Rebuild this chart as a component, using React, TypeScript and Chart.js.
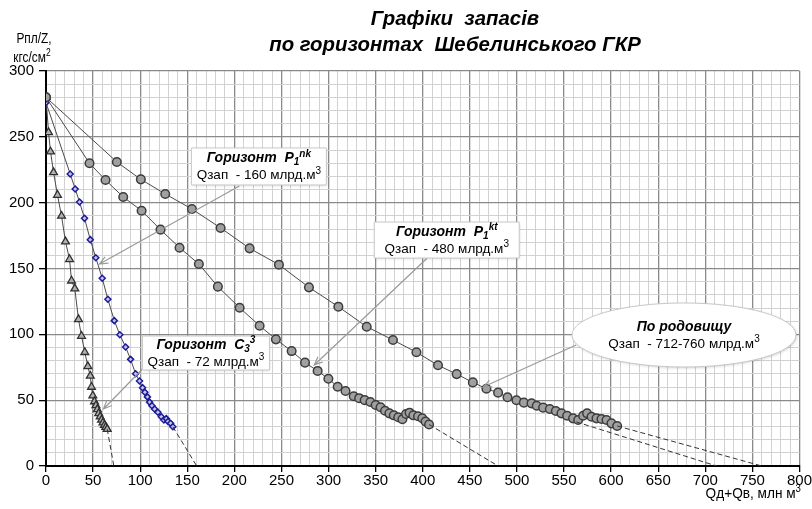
import React, { useEffect, useRef } from "react";
import { Chart, registerables } from "chart.js";

Chart.register(...registerables);

// ---- Axis tick labels ----
const xTickLabels = [0, 50, 100, 150, 200, 250, 300, 350, 400, 450, 500, 550, 600, 650, 700, 750, 800];
const yTickLabels = [0, 50, 100, 150, 200, 250, 300];

// ---- Горизонт C3^3 (triangles) ----
const c3Q = [0, 2.7, 4.8, 8.0, 12.2, 16.5, 20.7, 25.0, 27.1, 30.6, 34.5, 37.7, 41.2, 44.4, 47.0, 48.3, 49.7, 51.5, 53.0, 54.5, 56.0, 57.5, 59.0, 60.5, 62.0, 63.5, 65.0];
const c3P = [280, 253.4, 238.7, 223, 205.8, 189.9, 170.4, 157, 140.7, 134.7, 111.4, 98.7, 86.4, 75.7, 68.4, 60, 53.4, 49, 46, 43, 40, 37.5, 35, 33, 31, 29.5, 28];
const c3ExtQ = [65.0, 72];
const c3ExtP = [28, 0];

// ---- Горизонт P1^nk (blue diamonds) ----
const nkQ = [0, 25.7, 31.0, 35.6, 40.9, 47.0, 52.9, 59.7, 65.7, 72.5, 78.4, 84.5, 89.8, 95.1, 99.3, 102.5, 105.0, 107.7, 110.0, 112.5, 115.3, 118.8, 122.4, 125.2, 127.7, 129.5, 132.3, 134.7];
const nkP = [276, 221.8, 210.4, 200.5, 188.1, 171.9, 158.2, 142.6, 126.6, 110.4, 99.7, 90.4, 81, 70.1, 64.6, 59.5, 56, 52.5, 48.5, 45.8, 43.3, 40.8, 37.4, 34.9, 36, 33.8, 32.4, 29.8];
const nkExtQ = [134.7, 160];
const nkExtP = [29.8, 0];

// ---- Горизонт P1^kt (inner circles) ----
const ktQ = [0, 46.2, 63.2, 82.0, 101.5, 121.6, 141.8, 162.3, 182.5, 205.6, 226.8, 244.1, 260.8, 275.0, 288.4, 299.8, 309.7, 318.0, 326.7, 332.5, 338.4, 344.4, 350.0, 355.2, 360.0, 364.6, 369.3, 374.0, 378.4, 382.3, 386.0, 390.0, 395.0, 399.5, 403.0, 406.7];
const ktP = [280, 229.9, 217.2, 204.3, 193.9, 179.5, 165.8, 153.4, 136.2, 120.2, 106.5, 96.2, 87.3, 78.5, 72.2, 66.3, 60.2, 57, 53, 51.5, 50, 48.6, 46.3, 44.6, 42, 40, 38.5, 37, 35.5, 39.5, 40.5, 38.5, 37.8, 36.3, 33.8, 31.5];
const ktExtQ = [406.7, 480];
const ktExtP = [31.5, 0];

// ---- По родовищу (outer circles) ----
const fieldQ = [0, 75.2, 100.7, 126.6, 154.9, 185.4, 216.2, 247.3, 279.2, 310.4, 340.5, 368.4, 393.3, 416.2, 436.0, 453.2, 467.6, 480.0, 490.0, 499.5, 507.3, 515.5, 521.0, 527.8, 534.9, 541.3, 547.3, 553.3, 559.6, 565.0, 570.3, 574.5, 579.2, 584.5, 589.8, 595.1, 600.4, 606.4];
const fieldP = [280, 230.9, 217.7, 206.6, 195.2, 180.8, 165.3, 152.9, 135.7, 121, 105.8, 95.7, 86.4, 76.5, 69.8, 63.5, 58.7, 55.7, 52.2, 49.9, 48.1, 47.6, 45.8, 44.3, 43.3, 41.8, 40, 38.2, 36.2, 34.9, 38.2, 40, 37.4, 36.2, 35.7, 34.9, 32.4, 30.4];
const fieldExtLowQ = [563.0, 712];
const fieldExtLowP = [33.5, 0];
const fieldExtHighQ = [606.4, 760];
const fieldExtHighP = [30.4, 0];

const pts = (xs: number[], ys: number[]) => xs.map((x, i) => ({ x, y: ys[i] }));

const NARROW = "'Liberation Sans Narrow', 'Arial Narrow', 'Liberation Sans', Arial, sans-serif";
const SANS = "'Liberation Sans', Arial, sans-serif";

type Seg = { t: string; b?: boolean; i?: boolean; s?: "sup" | "sub" };

function segFont(seg: Seg, size: number, family: string) {
  const sz = seg.s ? Math.round(size * 0.72) : size;
  return `${seg.i ? "italic " : ""}${seg.b ? "bold " : ""}${sz}px ${family}`;
}

function drawRich(ctx: CanvasRenderingContext2D, segs: Seg[], x: number, cy: number, size: number, family: string, align: "center" | "left" | "right" = "center", hs = 1) {
  const widths = segs.map((s) => {
    ctx.font = segFont(s, size, family);
    return ctx.measureText(s.t).width;
  });
  const total = widths.reduce((a, b) => a + b, 0) * hs;
  let cx = align === "center" ? x - total / 2 : align === "right" ? x - total : x;
  ctx.save();
  ctx.textAlign = "left";
  ctx.textBaseline = "middle";
  ctx.translate(cx, cy);
  ctx.scale(hs, 1);
  let off = 0;
  segs.forEach((s, k) => {
    ctx.font = segFont(s, size, family);
    const dy = s.s === "sup" ? -size * 0.32 : s.s === "sub" ? size * 0.28 : 0;
    ctx.fillText(s.t, off, dy);
    off += widths[k];
  });
  ctx.restore();
}

function drawArrow(ctx: CanvasRenderingContext2D, x1: number, y1: number, x2: number, y2: number) {
  ctx.save();
  ctx.strokeStyle = "#9a9a9a";
  ctx.lineWidth = 1.2;
  ctx.beginPath();
  ctx.moveTo(x1, y1);
  ctx.lineTo(x2, y2);
  const a = Math.atan2(y2 - y1, x2 - x1);
  const L = 9;
  ctx.moveTo(x2 - L * Math.cos(a - 0.4), y2 - L * Math.sin(a - 0.4));
  ctx.lineTo(x2, y2);
  ctx.lineTo(x2 - L * Math.cos(a + 0.4), y2 - L * Math.sin(a + 0.4));
  ctx.stroke();
  ctx.restore();
}

// Annotation callouts (anchors in data units, sizes in px)
const callouts = [
  {
    shape: "rect", cx: 226, cy: 227.5, w: 135, h: 37,
    from: [205.3, 212.7], to: [56.8, 153.4],
    line1: [{ t: "Горизонт  P", b: true, i: true }, { t: "1", b: true, i: true, s: "sub" }, { t: "nk", b: true, i: true, s: "sup" }] as Seg[],
    line2: [{ t: "Qзап  - 160 млрд.м" }, { t: "3", s: "sup" }] as Seg[],
  },
  {
    shape: "rect", cx: 425.5, cy: 171.6, w: 145, h: 36,
    from: [404.8, 158], to: [284.9, 76.7],
    line1: [{ t: "Горизонт  P", b: true, i: true }, { t: "1", b: true, i: true, s: "sub" }, { t: "kt", b: true, i: true, s: "sup" }] as Seg[],
    line2: [{ t: "Qзап  - 480 млрд.м" }, { t: "3", s: "sup" }] as Seg[],
  },
  {
    shape: "rect", cx: 169.8, cy: 85.8, w: 127, h: 34,
    from: [104.5, 75.2], to: [61, 43.3],
    line1: [{ t: "Горизонт  C", b: true, i: true }, { t: "3", b: true, i: true, s: "sub" }, { t: "3", b: true, i: true, s: "sup" }] as Seg[],
    line2: [{ t: "Qзап  - 72 млрд.м" }, { t: "3", s: "sup" }] as Seg[],
  },
  {
    shape: "ellipse", cx: 677.4, cy: 99.5, w: 224, h: 64,
    from: [562.9, 91.9], to: [464.2, 60],
    line1: [{ t: "По родовищу", b: true, i: true }] as Seg[],
    line2: [{ t: "Qзап  - 712-760 млрд.м" }, { t: "3", s: "sup" }] as Seg[],
  },
];

const decorPlugin = {
  id: "decor",
  afterDatasetsDraw(chart: any) {
    const ctx: CanvasRenderingContext2D = chart.ctx;
    const xs = chart.scales.x;
    const ys = chart.scales.y;
    ctx.save();
    callouts.forEach((c) => {
      const px = xs.getPixelForValue(c.cx);
      const py = ys.getPixelForValue(c.cy);
      drawArrow(ctx, xs.getPixelForValue(c.from[0]), ys.getPixelForValue(c.from[1]), xs.getPixelForValue(c.to[0]), ys.getPixelForValue(c.to[1]));
      ctx.save();
      ctx.shadowColor = "rgba(0,0,0,0.18)";
      ctx.shadowBlur = 3;
      ctx.shadowOffsetX = 1;
      ctx.shadowOffsetY = 1;
      ctx.fillStyle = "#ffffff";
      ctx.strokeStyle = "#c8c8c8";
      ctx.lineWidth = 1;
      ctx.beginPath();
      if (c.shape === "ellipse") {
        ctx.ellipse(px, py, c.w / 2, c.h / 2, 0, 0, Math.PI * 2);
      } else {
        ctx.rect(px - c.w / 2, py - c.h / 2, c.w, c.h);
      }
      ctx.fill();
      ctx.shadowColor = "transparent";
      ctx.stroke();
      ctx.restore();
      ctx.fillStyle = "#000";
      drawRich(ctx, c.line1, px, py - 8, 14, SANS);
      drawRich(ctx, c.line2, px, py + 9, 13.5, SANS);
    });
    ctx.restore();
  },
  afterDraw(chart: any) {
    const ctx: CanvasRenderingContext2D = chart.ctx;
    ctx.save();
    ctx.fillStyle = "#000";
    // Title
    drawRich(ctx, [{ t: "Графіки  запасів", b: true, i: true }], 455, 19, 21, SANS, "center", 0.97);
    drawRich(ctx, [{ t: "по горизонтах  Шебелинського ГКР", b: true, i: true }], 455, 45, 21, SANS, "center", 0.97);
    // Y axis title
    drawRich(ctx, [{ t: "Рпл/Z," }], 34, 39, 14, SANS, "center", 0.85);
    drawRich(ctx, [{ t: "кгс/см" }, { t: "2", s: "sup" }], 32, 58, 14, SANS, "center", 0.85);
    // X axis title
    drawRich(ctx, [{ t: "Qд+Qв, млн м" }, { t: "3", s: "sup" }], 801, 494, 15.5, SANS, "right", 0.88);
    ctx.restore();
  },
};

export default function App() {
  const ref = useRef<HTMLCanvasElement>(null);
  useEffect(() => {
    if (!ref.current) return;
    const lineDs = (data: any[], style: any) => ({
      data,
      borderColor: "#4a4a4a",
      borderWidth: 1,
      tension: 0,
      fill: false,
      ...style,
    });
    const dashDs = (data: any[]) => ({
      data,
      borderColor: "#333",
      borderWidth: 1,
      borderDash: [5, 3],
      pointRadius: 0,
      fill: false,
    });
    const chart = new Chart(ref.current, {
      type: "line",
      data: {
        datasets: [
          dashDs(pts(c3ExtQ, c3ExtP)),
          dashDs(pts(nkExtQ, nkExtP)),
          dashDs(pts(ktExtQ, ktExtP)),
          dashDs(pts(fieldExtLowQ, fieldExtLowP)),
          dashDs(pts(fieldExtHighQ, fieldExtHighP)),
          lineDs(pts(fieldQ, fieldP), { pointStyle: "circle", pointRadius: 4.3, pointBackgroundColor: "#a0a0a0", pointBorderColor: "#3c3c3c", pointBorderWidth: 1.5 }),
          lineDs(pts(ktQ, ktP), { pointStyle: "circle", pointRadius: 4.3, pointBackgroundColor: "#a0a0a0", pointBorderColor: "#3c3c3c", pointBorderWidth: 1.5 }),
          lineDs(pts(nkQ, nkP), { pointStyle: "rectRot", pointRadius: 3, pointBackgroundColor: "#c4c4ee", pointBorderColor: "#1c1c96", pointBorderWidth: 1.5 }),
          lineDs(pts(c3Q, c3P), { pointStyle: "triangle", pointRadius: 4.5, pointBackgroundColor: "#b0b0b0", pointBorderColor: "#303030", pointBorderWidth: 1.3 }),
        ],
      },
      options: {
        responsive: false,
        animation: false,
        parsing: true,
        layout: { padding: { top: 71, right: 11, left: 0, bottom: 0 } },
        plugins: { legend: { display: false }, tooltip: { enabled: false }, title: { display: false } },
        scales: {
          x: {
            type: "linear",
            min: 0,
            max: 800,
            afterFit: (s: any) => { s.height = 43; },
            ticks: {
              stepSize: 10,
              autoSkip: false,
              maxRotation: 0,
              maxTicksLimit: 200,
              padding: 0,
              color: "#000",
              font: { family: NARROW, size: 15 },
              callback: (v: any) => (xTickLabels.includes(Number(v)) ? String(v) : ""),
            },
            grid: {
              color: (c: any) => (c.tick && c.tick.value % 50 === 0 ? "#8a8a8a" : "#d2d2d2"),
              lineWidth: (c: any) => (c.tick && c.tick.value % 50 === 0 ? 1.3 : 1),
              tickLength: 6,
              tickColor: (c: any) => (c.tick && c.tick.value % 50 === 0 ? "#000" : "rgba(0,0,0,0)"),
            },
            border: { color: "#000", width: 2 },
          },
          y: {
            type: "linear",
            min: 0,
            max: 300,
            afterFit: (s: any) => { s.width = 46; },
            ticks: {
              stepSize: 10,
              autoSkip: false,
              maxTicksLimit: 200,
              padding: 5,
              color: "#000",
              font: { family: NARROW, size: 15 },
              callback: (v: any) => (yTickLabels.includes(Number(v)) ? String(v) : ""),
            },
            grid: {
              color: (c: any) => (c.tick && c.tick.value % 50 === 0 ? "#8a8a8a" : "#d2d2d2"),
              lineWidth: (c: any) => (c.tick && c.tick.value % 50 === 0 ? 1.3 : 1),
              tickLength: 7,
              tickColor: (c: any) => (c.tick && c.tick.value % 50 === 0 ? "#000" : "rgba(0,0,0,0)"),
            },
            border: { color: "#000", width: 2 },
          },
        },
      } as any,
      plugins: [decorPlugin],
    });
    return () => chart.destroy();
  }, []);
  return (
    <div style={{ position: "fixed", left: 0, top: 0, width: 812, height: 509, background: "#fff" }}>
      <canvas ref={ref} width={812} height={509} style={{ width: 812, height: 509, display: "block" }} />
    </div>
  );
}
